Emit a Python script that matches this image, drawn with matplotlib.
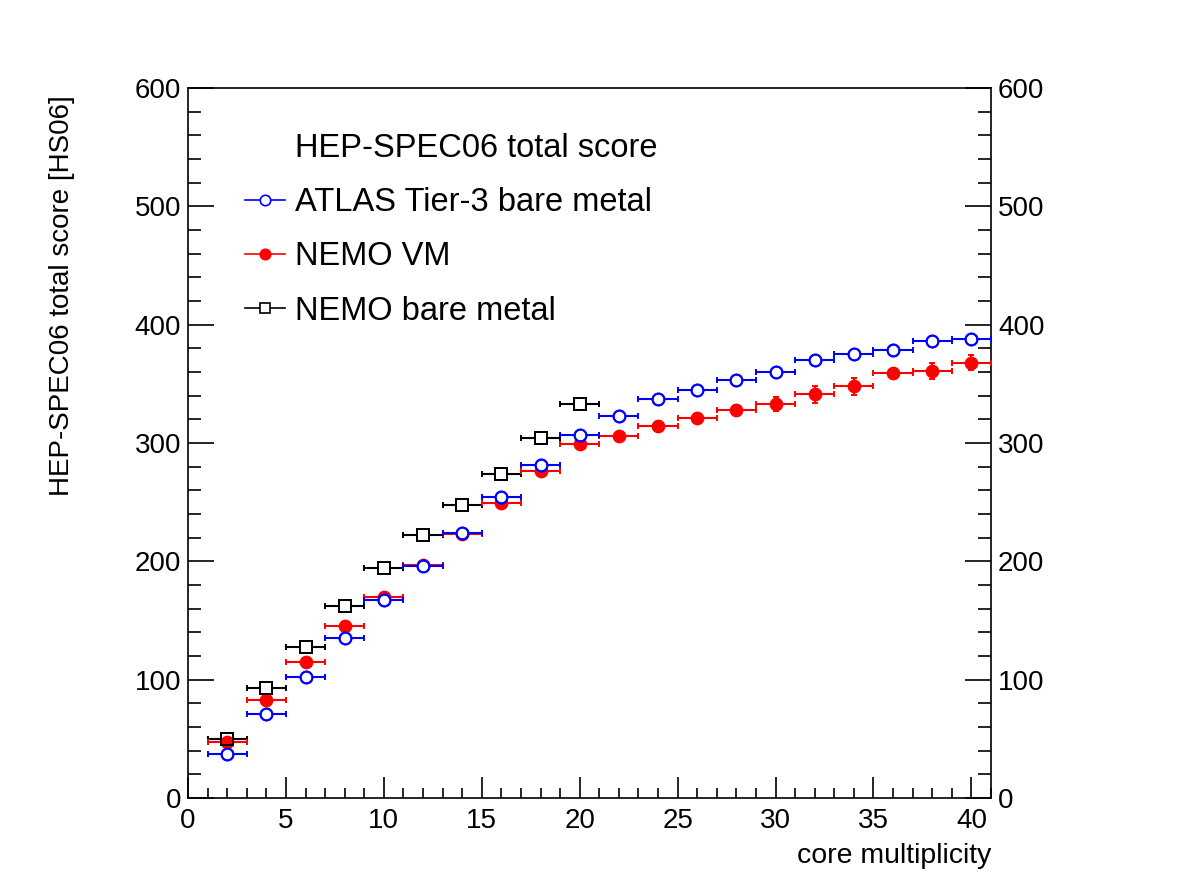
import numpy as np
import matplotlib
matplotlib.use('Agg')
import matplotlib.pyplot as plt
from matplotlib.lines import Line2D
from matplotlib.ticker import MultipleLocator

plt.rcParams['font.family'] = ['Liberation Sans', 'DejaVu Sans']

# core multiplicity (bin centres) and half bin width
cores = [2, 4, 6, 8, 10, 12, 14, 16, 18, 20, 22, 24, 26, 28, 30, 32, 34, 36, 38, 40]
cores_bare = [2, 4, 6, 8, 10, 12, 14, 16, 18, 20]
half_width = 1

# HS06 scores
atlas_t3 = [37, 71, 102, 135, 167, 196, 224, 254, 281, 307,
            323, 337, 345, 353, 360, 370, 375, 379, 386, 388]
atlas_t3_err = [1, 1, 1, 1, 1, 1, 1, 1, 1, 1, 1, 1, 1, 1, 1, 1, 1, 4.2, 4.8, 1]

nemo_vm = [47, 83, 115, 145, 170, 197, 223, 249, 276, 299,
           306, 314, 321, 328, 333, 341, 348, 359, 361, 368]
nemo_vm_err = [1, 1, 1, 1, 1, 1, 1, 1, 1, 3, 1, 1, 1.5, 4.5, 5.6, 6.8, 7.3, 2, 7, 6.6]

nemo_bare = [50, 93, 128, 162, 194, 222, 248, 274, 304, 333]
nemo_bare_err = [1, 1, 1, 1, 1, 1, 1, 1, 1, 1]

labels = ['ATLAS Tier-3 bare metal', 'NEMO VM', 'NEMO bare metal']
legend_title = 'HEP-SPEC06 total score'

fig = plt.figure(figsize=(11.82, 8.88), dpi=100)
ax = fig.add_axes([188/1182, 90/888, (991-188)/1182, (798-88)/888])

eb = dict(capsize=2.5, elinewidth=1.5, capthick=1.5, markersize=8.5, mew=1.4)

# black squares (bottom), red filled circles, blue open circles (top)
ax.errorbar(cores_bare, nemo_bare, xerr=half_width, yerr=nemo_bare_err, fmt='s',
            color='black', mfc='white', zorder=2, **eb)
ax.errorbar(cores, nemo_vm, xerr=half_width, yerr=nemo_vm_err, fmt='o',
            color='red', mfc='red', zorder=3, **eb)
ax.errorbar(cores, atlas_t3, xerr=half_width, yerr=atlas_t3_err, fmt='o',
            color='blue', mfc='white', zorder=4, **eb)
# re-draw open marker outlines so they sit on top
ax.plot(cores, atlas_t3, linestyle='none', marker='o', ms=8.5, mew=1.4,
        mfc='none', mec='blue', zorder=6)
ax.plot(cores_bare, nemo_bare, linestyle='none', marker='s', ms=8.5, mew=1.4,
        mfc='none', mec='black', zorder=6)

ax.set_xlim(0, 41)
ax.set_ylim(0, 600)
ax.xaxis.set_major_locator(MultipleLocator(5))
ax.xaxis.set_minor_locator(MultipleLocator(1))
ax.yaxis.set_major_locator(MultipleLocator(100))
ax.yaxis.set_minor_locator(MultipleLocator(20))
ax.tick_params(axis='both', which='both', direction='in', labelsize=20, width=1.2)
ax.tick_params(axis='y', which='both', left=True, right=True, labelright=True, pad=5)
ax.tick_params(axis='y', which='major', length=19)
ax.tick_params(axis='y', which='minor', length=9.5)
ax.tick_params(axis='x', which='both', top=False, pad=7)
ax.tick_params(axis='x', which='major', length=15)
ax.tick_params(axis='x', which='minor', length=7.5)
for s in ax.spines.values():
    s.set_linewidth(1.2)

ax.set_xlabel('core multiplicity', fontsize=20.5, loc='right')
ax.xaxis.set_label_coords(1.0, -0.063)
ax.set_ylabel('HEP-SPEC06 total score [HS06]', fontsize=20, loc='top')
ax.yaxis.set_label_coords(-0.141, 0.99)

handles = [Line2D([], [], linestyle='none'),
           Line2D([], [], color='blue', marker='o', ms=7.5, mfc='white', mew=1.2, lw=1.2),
           Line2D([], [], color='red', marker='o', ms=7.5, mfc='red', mew=1.2, lw=1.2),
           Line2D([], [], color='black', marker='s', ms=7, mfc='white', mew=1.2, lw=1.2)]
ax.legend(handles, [legend_title] + labels, loc='upper left',
          bbox_to_anchor=(245/1182, 1 - 133/888), bbox_transform=fig.transFigure,
          frameon=False, fontsize=23.5, handlelength=1.22, handletextpad=0.3,
          labelspacing=0.71, borderpad=0, borderaxespad=0)

fig.savefig('out.png', dpi=100)
